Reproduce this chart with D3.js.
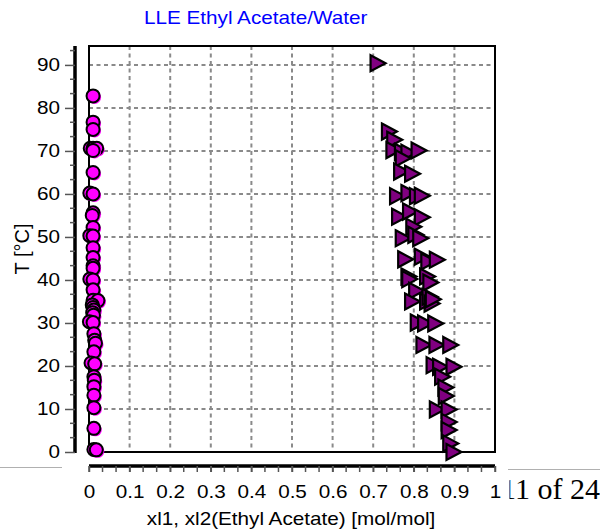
<!DOCTYPE html>
<html lang="en">
<head>
  <meta charset="UTF-8">
  <title>LLE Ethyl Acetate/Water</title>
  <script src="https://d3js.org/d3.v7.min.js"></script>
  <style>
    body { margin: 0; background: #fff; }
    svg { display: block; font-family: "Liberation Sans", Arial, sans-serif; }
    .grid line { stroke: #8a8a8a; stroke-width: 2; stroke-dasharray: 4 3.5; }
  </style>
</head>
<body>
  <svg id="chart" width="600" height="531"></svg>

  <script>
    // water-rich phase (xl1) - circles
    const circleX = [0.010, 0.010, 0.010, 0.003, 0.010, 0.019, 0.010, 0.010, 0.002, 0.010,
      0.010, 0.008, 0.010, 0.002, 0.010, 0.010, 0.010, 0.010, 0.010, 0.002,
      0.010, 0.010, 0.010, 0.022, 0.008, 0.010, 0.012, 0.009, 0.011, 0.001,
      0.010, 0.012, 0.014, 0.016, 0.012, 0.005, 0.014, 0.012, 0.013, 0.012,
      0.012, 0.012, 0.012, 0.012, 0.018];
    const circleT = [82.8, 76.7, 75.0, 70.6, 70.6, 70.6, 70.1, 65.0, 60.2, 60.0,
      55.6, 55.0, 52.2, 50.3, 50.2, 47.5, 45.2, 43.3, 42.7, 40.2,
      40.0, 37.7, 35.3, 35.2, 34.2, 33.6, 33.0, 32.4, 31.8, 30.3,
      30.1, 27.5, 26.0, 25.3, 23.3, 20.7, 20.5, 17.5, 16.7, 15.2,
      13.2, 10.3, 5.5, 0.6, 0.5];

    // ester-rich phase (xl2) - triangles
    const triX = [0.712, 0.740, 0.753, 0.751, 0.772, 0.788, 0.813, 0.774, 0.770, 0.797,
      0.760, 0.788, 0.809, 0.821, 0.765, 0.792, 0.821, 0.800, 0.774, 0.805,
      0.817, 0.780, 0.821, 0.837, 0.858, 0.788, 0.790, 0.834, 0.842, 0.807,
      0.797, 0.834, 0.840, 0.845, 0.848, 0.811, 0.829, 0.854, 0.825, 0.857,
      0.891, 0.850, 0.866, 0.899, 0.871, 0.879, 0.880, 0.858, 0.887, 0.887,
      0.887, 0.891, 0.899];
    const triT = [90.4, 74.5, 72.6, 70.2, 69.8, 69.6, 70.1, 68.3, 65.2, 64.7,
      59.5, 60.2, 59.5, 59.6, 54.7, 55.9, 54.6, 52.4, 49.7, 50.5,
      49.7, 44.8, 45.4, 44.3, 44.7, 40.8, 40.2, 40.8, 39.4, 37.5,
      35.0, 35.0, 36.1, 34.5, 35.5, 30.1, 29.9, 29.9, 24.9, 24.9,
      24.9, 20.2, 19.8, 19.8, 17.5, 15.0, 13.0, 9.9, 9.9, 7.0,
      5.1, 2.0, 0.0];

    const xTicks = [0, 0.1, 0.2, 0.3, 0.4, 0.5, 0.6, 0.7, 0.8, 0.9, 1];
    const yTicks = [0, 10, 20, 30, 40, 50, 60, 70, 80, 90];

    const stretch = "scale(1.15,1)"; // the source page is slightly wide

    const svg = d3.select("#chart");
    const margin = { top: 46, right: 105, bottom: 79, left: 89 };
    const width = 600 - margin.left - margin.right;   // 406
    const height = 531 - margin.top - margin.bottom;  // 406

    const x = d3.scaleLinear().domain([0, 1]).range([0, width]);
    const y = d3.scaleLinear().domain([0, 94.4]).range([height, 0]);

    // page lines + page number (document background)
    svg.append("line").attr("x1", 0).attr("x2", 62).attr("y1", 467.5).attr("y2", 467.5)
      .attr("stroke", "#b0b0b0").attr("stroke-width", 1);
    svg.append("line").attr("x1", 508).attr("x2", 600).attr("y1", 469.5).attr("y2", 469.5)
      .attr("stroke", "#b0b0b0").attr("stroke-width", 1);
    svg.append("clipPath").attr("id", "pgclip")
      .append("rect").attr("x", 509.5).attr("y", 470).attr("width", 91).attr("height", 60);
    svg.append("text")
      .attr("x", 501).attr("y", 499)
      .attr("clip-path", "url(#pgclip)")
      .style("font-family", "'Liberation Serif', 'Times New Roman', serif")
      .style("font-size", "30px")
      .attr("fill", "#000")
      .text("11 of 24");

    // title
    svg.append("text")
      .attr("transform", `translate(144,24) ${stretch}`)
      .attr("fill", "#0000ff")
      .style("font-size", "18px")
      .text("LLE Ethyl Acetate/Water");

    const g = svg.append("g")
      .attr("transform", `translate(${margin.left},${margin.top})`);

    // grid
    const grid = g.append("g").attr("class", "grid");
    grid.selectAll(".vx").data(xTicks.filter(d => d > 0 && d < 1)).enter()
      .append("line")
      .attr("x1", d => x(d)).attr("x2", d => x(d))
      .attr("y1", 0).attr("y2", height);
    grid.selectAll(".hy").data(yTicks.filter(d => d > 0)).enter()
      .append("line")
      .attr("x1", 0).attr("x2", width)
      .attr("y1", d => y(d)).attr("y2", d => y(d));

    // frame
    g.append("rect")
      .attr("x", 0).attr("y", 0).attr("width", width).attr("height", height)
      .attr("fill", "none").attr("stroke", "#000").attr("stroke-width", 2);

    // offset y axis (thick line on the left)
    const minorY = d3.range(0, 94.4, 10 / 3).filter(v => Math.abs(v / 10 - Math.round(v / 10)) > 0.01);
    const yAxis = g.append("g").attr("transform", "translate(-14,0)");
    yAxis.append("line").attr("x1", 0).attr("x2", 0).attr("y1", 0).attr("y2", height + 1)
      .attr("stroke", "#000").attr("stroke-width", 3.5);
    yAxis.call(d3.axisLeft(y).tickValues(yTicks).tickSize(10).tickPadding(3))
      .call(a => a.select(".domain").remove())
      .call(a => a.selectAll(".tick line").attr("stroke", "#555").attr("stroke-width", 1.5))
      .call(a => a.selectAll(".tick text").style("font-size", "18px").attr("transform", stretch)
        .style("font-family", "'Liberation Sans', Arial, sans-serif").attr("fill", "#000"));
    yAxis.selectAll(".minor").data(minorY).enter()
      .append("line")
      .attr("x1", -5).attr("x2", 0)
      .attr("y1", d => y(d)).attr("y2", d => y(d))
      .attr("stroke", "#555").attr("stroke-width", 1.5);

    // offset x axis (thick line below)
    const minorX = d3.range(0, 1.0001, 1 / 30);
    const xAxis = g.append("g").attr("transform", `translate(0,${height + 14})`);
    xAxis.append("line").attr("x1", 0).attr("x2", width).attr("y1", 0).attr("y2", 0)
      .attr("stroke", "#000").attr("stroke-width", 3.5);
    xAxis.selectAll(".minor").data(minorX).enter()
      .append("line")
      .attr("x1", d => x(d)).attr("x2", d => x(d))
      .attr("y1", 0).attr("y2", 6)
      .attr("stroke", "#555").attr("stroke-width", 1.5);
    xAxis.call(d3.axisBottom(x).tickValues(xTicks).tickFormat(d3.format("~g")).tickSize(6).tickPadding(13))
      .call(a => a.select(".domain").remove())
      .call(a => a.selectAll(".tick line").attr("stroke", "#555").attr("stroke-width", 1.5))
      .call(a => a.selectAll(".tick text").style("font-size", "18px").attr("transform", stretch)
        .style("font-family", "'Liberation Sans', Arial, sans-serif").attr("fill", "#000"));

    // axis titles
    svg.append("text")
      .attr("transform", `translate(291,525) ${stretch}`)
      .attr("text-anchor", "middle")
      .style("font-size", "18px")
      .text("xl1, xl2(Ethyl Acetate) [mol/mol]");
    svg.append("text")
      .attr("transform", "translate(29,249) rotate(-90)")
      .attr("text-anchor", "middle")
      .style("font-size", "20px")
      .text("T [°C]");

    // circles
    const circles = circleX.map((v, i) => ({ x: v, t: circleT[i] }));
    const cg = g.selectAll(".pt").data(circles).enter().append("g")
      .attr("transform", d => `translate(${x(d.x)},${y(d.t)})`);
    cg.append("circle").attr("cx", 1.5).attr("cy", 1.5).attr("r", 6.5).attr("fill", "#ff00ff");
    cg.append("circle").attr("r", 6.5).attr("fill", "#ff00ff")
      .attr("stroke", "#000").attr("stroke-width", 2);

    // triangles
    const tris = triX.map((v, i) => ({ x: v, t: triT[i] }));
    g.selectAll(".tri").data(tris).enter()
      .append("path")
      .attr("d", "M-7.5,-8L7.5,0L-7.5,8Z")
      .attr("transform", d => `translate(${x(d.x)},${y(d.t)})`)
      .attr("fill", "#800080")
      .attr("stroke", "#000").attr("stroke-width", 2.2)
      .attr("stroke-linejoin", "miter");
  </script>
</body>
</html>
